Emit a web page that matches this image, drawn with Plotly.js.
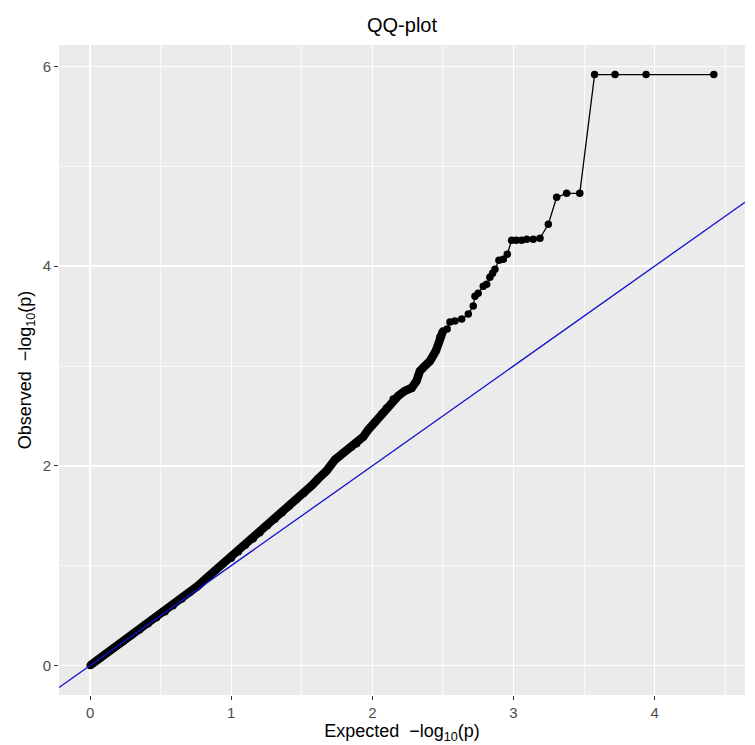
<!DOCTYPE html>
<html>
<head>
<meta charset="utf-8">
<script src="https://cdn.plot.ly/plotly-3.0.1.min.js"></script>
<style>
html,body{margin:0;padding:0;background:#ffffff;}
#chart{width:755px;height:745px;}
</style>
</head>
<body>
<div id="chart"></div>
<script>
// Expected -log10(p) values
const expected = [
  0.000, 0.060, 0.115, 0.175, 0.233, 0.292, 0.351, 0.410, 0.470, 0.530,
  0.587, 0.650, 0.706, 0.765, 0.824, 0.885, 0.942, 1.000, 1.050, 1.100,
  1.155, 1.202, 1.255, 1.309, 1.360, 1.410, 1.462, 1.515, 1.569, 1.616,
  1.675, 1.734, 1.793, 1.850, 1.888, 1.935, 1.970, 2.018, 2.065, 2.100,
  2.148, 2.183, 2.230, 2.278, 2.313, 2.337, 2.372, 2.408, 2.450, 2.479,
  2.500, 2.530, 2.550, 2.585, 2.633, 2.680, 2.715, 2.727, 2.750, 2.786,
  2.810, 2.833, 2.852, 2.869, 2.897, 2.928, 2.956, 2.987, 3.020, 3.058,
  3.094, 3.140, 3.188, 3.247, 3.306, 3.377, 3.470, 3.575, 3.720, 3.940,
  4.420
];
// Observed -log10(p) values
const observed = [
  0.000, 0.062, 0.122, 0.183, 0.241, 0.300, 0.358, 0.418, 0.478, 0.538,
  0.598, 0.665, 0.730, 0.800, 0.875, 0.950, 1.020, 1.075, 1.140, 1.205,
  1.270, 1.330, 1.400, 1.465, 1.530, 1.595, 1.660, 1.725, 1.800, 1.870,
  1.950, 2.060, 2.130, 2.185, 2.220, 2.290, 2.360, 2.440, 2.520, 2.580,
  2.670, 2.700, 2.750, 2.780, 2.850, 2.950, 3.000, 3.050, 3.150, 3.290,
  3.350, 3.370, 3.440, 3.450, 3.470, 3.520, 3.600, 3.700, 3.730, 3.800,
  3.820, 3.890, 3.930, 3.970, 4.060, 4.070, 4.120, 4.260, 4.260, 4.260,
  4.270, 4.270, 4.280, 4.420, 4.690, 4.730, 4.730, 5.920, 5.920, 5.920,
  5.920
];
// Reference line y = slope * x + intercept
const ablineSlope = 1;
const ablineIntercept = 0;

const xTicks = [0, 1, 2, 3, 4];
const yTicks = [0, 2, 4, 6];

const titleText = 'QQ-plot';
const xTitle = 'Expected  \u2212log<sub>10</sub>(p)';
const yTitle = 'Observed  \u2212log<sub>10</sub>(p)';

// ggplot-style 5% expansion of data range
function expand(arr) {
  const mn = Math.min(...arr), mx = Math.max(...arr);
  const d = (mx - mn) * 0.05;
  return [mn - d, mx + d];
}
const xRange = expand(expected);
const yRange = expand(observed);

// dense part of the sample (drawn as overlapping points -> thick band)
const denseX = [], denseY = [];
for (let i = 0; i < expected.length; i++) {
  if (expected[i] <= 2.5) { denseX.push(expected[i]); denseY.push(observed[i]); }
}

const FONT = 'Liberation Sans, Arial, sans-serif';

const traces = [
  {
    x: denseX, y: denseY, type: 'scatter', mode: 'lines',
    line: {color: '#000000', width: 8.5},
    hoverinfo: 'skip', showlegend: false
  },
  {
    x: expected, y: observed, type: 'scatter', mode: 'lines+markers',
    line: {color: '#000000', width: 1.3},
    marker: {color: '#000000', size: 7.5},
    showlegend: false
  },
  {
    x: xRange, y: xRange.map(v => ablineSlope * v + ablineIntercept),
    type: 'scatter', mode: 'lines',
    line: {color: '#1010d0', width: 1.3},
    hoverinfo: 'skip', showlegend: false
  }
];

const layout = {
  width: 755, height: 745,
  paper_bgcolor: '#ffffff',
  plot_bgcolor: '#EBEBEB',
  margin: {l: 59, r: 10, t: 45, b: 50},
  font: {family: FONT, color: '#000000'},
  title: {
    text: titleText, font: {family: FONT, size: 20, color: '#000000'},
    x: 0.5, xref: 'paper', xanchor: 'center', y: 0.966, yanchor: 'middle'
  },
  xaxis: {
    range: xRange, tickmode: 'array', tickvals: xTicks, ticktext: xTicks.map(String),
    showgrid: true, gridcolor: '#ffffff', gridwidth: 1.4,
    minor: {dtick: 0.5, showgrid: true, gridcolor: '#ffffff', gridwidth: 0.7, ticks: ''},
    zeroline: false, showline: false,
    ticks: 'outside', ticklen: 4, tickwidth: 1.2, tickcolor: '#333333',
    tickfont: {family: FONT, size: 15, color: '#4D4D4D'},
    title: {text: xTitle, font: {family: FONT, size: 18, color: '#000000'}, standoff: 2}
  },
  yaxis: {
    range: yRange, tickmode: 'array', tickvals: yTicks, ticktext: yTicks.map(String),
    showgrid: true, gridcolor: '#ffffff', gridwidth: 1.4,
    minor: {dtick: 1, showgrid: true, gridcolor: '#ffffff', gridwidth: 0.7, ticks: ''},
    zeroline: false, showline: false,
    ticks: 'outside', ticklen: 4, tickwidth: 1.2, tickcolor: '#333333',
    tickfont: {family: FONT, size: 15, color: '#4D4D4D'},
    title: {text: yTitle, font: {family: FONT, size: 18, color: '#000000'}, standoff: 6}
  }
};

Plotly.newPlot('chart', traces, layout, {displayModeBar: false, staticPlot: true});
</script>
</body>
</html>
